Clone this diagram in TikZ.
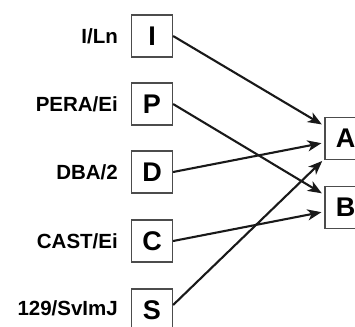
\documentclass[tikz,border=0pt]{standalone}
\usepackage{fontspec}
\setmainfont{Liberation Sans}
\usetikzlibrary{arrows.meta}
\begin{document}
\begin{tikzpicture}[x=1pt,y=-1pt,
  box/.style={draw=black!70,line width=1.2pt,minimum width=41pt,minimum height=42pt,inner sep=0pt,font=\fontsize{27}{29}\selectfont\bfseries},
  lab/.style={anchor=east,inner sep=0pt,font=\fontsize{20.5}{22}\selectfont\bfseries},
  conn/.style={line width=2.1pt,draw=black!90,-{Stealth[length=14pt,width=11pt,inset=4pt]},shorten >=3pt}]
\path[use as bounding box,clip] (0,0) rectangle (355,326);
\node[box] (I) at (152,36) {I};
\node[box] (P) at (152,104) {P};
\node[box] (D) at (152,172) {D};
\node[box] (C) at (152,241) {C};
\node[box] (S) at (152,310) {S};
\node[box] (A) at (345.5,138.5) {A};
\node[box] (B) at (345.5,207.5) {B};
\node[lab] (lI) at (118,36) {I/Ln};
\node[lab] (lP) at (118,104) {PERA/Ei};
\node[lab] (lD) at (118,172) {DBA/2};
\node[lab] (lC) at (118,241) {CAST/Ei};
\node[lab] (lS) at (118,308) {129/SvImJ};
\draw[conn] (I.east) -- (A);
\draw[conn] (P.east) -- (B);
\draw[conn] (D.east) -- (A);
\draw[conn] (C.east) -- (B);
\draw[conn] ([yshift=5pt]S.east) -- (A);
\end{tikzpicture}
\end{document}
